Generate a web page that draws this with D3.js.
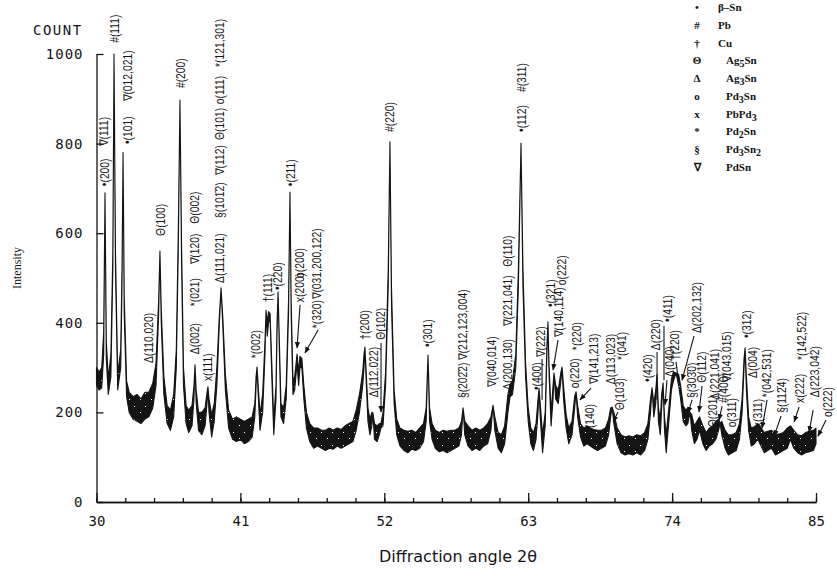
<!DOCTYPE html>
<html>
<head>
<meta charset="utf-8">
<script src="https://cdn.jsdelivr.net/npm/d3@7/dist/d3.min.js"></script>
<style>
  body { margin: 0; background: #fff; }
  svg { display: block; }
</style>
</head>
<body>
<div id="chart"></div>
<script>
// Recorded trace: 2-theta (deg) with the lower and upper edge of the noisy line (counts)
var angle = [30.00, 30.20, 30.40, 30.55, 30.65, 30.75, 30.90, 31.10, 31.25, 31.34, 31.45, 31.62, 31.85, 31.95, 32.03, 32.12,
  32.30, 32.50, 32.80, 33.10, 33.40, 33.70, 34.00, 34.30, 34.55, 34.75, 34.85, 34.95, 35.15, 35.40, 35.65, 35.90,
  36.10, 36.25, 36.38, 36.50, 36.65, 36.85, 37.05, 37.30, 37.45, 37.53, 37.62, 37.80, 38.05, 38.30, 38.45, 38.52,
  38.60, 38.80, 39.00, 39.20, 39.38, 39.52, 39.66, 39.85, 40.10, 40.40, 40.70, 41.00, 41.30, 41.60, 41.90, 42.10,
  42.20, 42.27, 42.36, 42.50, 42.70, 42.88, 42.96, 43.05, 43.15, 43.27, 43.40, 43.55, 43.72, 43.80, 43.88, 43.96,
  44.10, 44.30, 44.50, 44.68, 44.79, 44.88, 45.02, 45.15, 45.33, 45.45, 45.55, 45.70, 45.85, 46.05, 46.30, 46.60,
  46.90, 47.20, 47.50, 47.80, 48.10, 48.40, 48.70, 49.00, 49.30, 49.60, 49.85, 50.10, 50.35, 50.45, 50.52, 50.60,
  50.75, 50.90, 51.05, 51.13, 51.25, 51.45, 51.62, 51.74, 51.90, 52.10, 52.30, 52.43, 52.55, 52.75, 52.95, 53.20,
  53.50, 53.80, 54.10, 54.40, 54.70, 55.00, 55.20, 55.34, 55.46, 55.65, 55.90, 56.20, 56.50, 56.80, 57.10, 57.40,
  57.70, 57.90, 58.02, 58.15, 58.40, 58.70, 59.00, 59.30, 59.60, 59.90, 60.15, 60.31, 60.45, 60.70, 60.95, 61.20,
  61.45, 61.61, 61.80, 62.05, 62.25, 62.45, 62.60, 62.80, 63.00, 63.20, 63.40, 63.60, 63.75, 63.83, 63.92, 64.10,
  64.30, 64.43, 64.51, 64.60, 64.75, 64.90, 64.97, 65.10, 65.30, 65.50, 65.59, 65.70, 65.90, 66.10, 66.35, 66.55,
  66.66, 66.78, 67.00, 67.25, 67.50, 67.75, 68.00, 68.30, 68.60, 68.90, 69.15, 69.30, 69.41, 69.55, 69.80, 70.10,
  70.40, 70.70, 71.00, 71.30, 71.60, 71.90, 72.15, 72.35, 72.47, 72.60, 72.75, 72.85, 72.95, 73.10, 73.20, 73.31,
  73.42, 73.55, 73.75, 73.95, 74.10, 74.30, 74.50, 74.65, 74.85, 75.05, 75.20, 75.37, 75.50, 75.70, 75.90, 76.10,
  76.35, 76.60, 76.85, 77.10, 77.35, 77.55, 77.67, 77.80, 78.05, 78.30, 78.60, 78.90, 79.15, 79.35, 79.50, 79.58,
  79.68, 79.85, 80.05, 80.30, 80.55, 80.80, 81.05, 81.30, 81.60, 81.90, 82.20, 82.50, 82.80, 83.05, 83.30, 83.60,
  83.90, 84.20, 84.50, 84.80, 85.00];
var low = [260, 250, 255, 330, 690, 320, 240, 280, 520, 1000, 520, 250, 300, 480, 780, 420,
  235, 200, 185, 180, 175, 185, 190, 210, 260, 420, 560, 400, 240, 175, 160, 190,
  300, 560, 897, 540, 260, 175, 155, 170, 230, 306, 220, 160, 150, 170, 220, 257,
  200, 145, 180, 260, 390, 478, 390, 250, 165, 140, 135, 140, 130, 135, 145, 190,
  260, 301, 240, 160, 200, 330, 428, 370, 400, 410, 280, 150, 230, 380, 469, 360,
  190, 175, 230, 420, 692, 420, 240, 250, 310, 260, 300, 300, 230, 165, 135, 120,
  125, 120, 115, 120, 118, 125, 120, 125, 130, 135, 160, 200, 260, 300, 346, 280,
  180, 150, 170, 199, 140, 135, 150, 165, 170, 260, 480, 804, 440, 220, 150, 125,
  115, 110, 118, 115, 120, 135, 180, 328, 180, 140, 120, 112, 115, 110, 115, 120,
  125, 150, 210, 150, 125, 115, 120, 115, 125, 130, 160, 216, 160, 120, 110, 130,
  200, 235, 240, 300, 480, 801, 480, 280, 180, 130, 115, 140, 200, 254, 190, 110,
  170, 330, 402, 280, 170, 230, 288, 230, 220, 270, 301, 230, 165, 130, 150, 210,
  246, 190, 145, 125, 130, 125, 120, 115, 120, 125, 150, 190, 212, 175, 130, 110,
  105, 108, 105, 110, 105, 115, 140, 200, 255, 190, 220, 285, 180, 150, 210, 266,
  160, 110, 180, 250, 270, 288, 260, 230, 180, 170, 175, 200, 160, 130, 140, 160,
  130, 115, 125, 130, 140, 160, 176, 150, 120, 105, 110, 115, 140, 200, 300, 344,
  250, 160, 125, 130, 140, 125, 110, 115, 120, 105, 110, 115, 120, 140, 120, 110,
  105, 110, 112, 115, 130];
var high = [300, 290, 300, 380, 690, 360, 275, 330, 560, 1000, 560, 285, 340, 520, 780, 460,
  270, 245, 235, 240, 230, 245, 245, 265, 310, 450, 560, 430, 280, 215, 205, 240,
  340, 600, 897, 580, 300, 215, 205, 215, 260, 306, 250, 200, 200, 210, 245, 257,
  230, 195, 220, 300, 410, 478, 410, 285, 205, 185, 190, 185, 180, 185, 190, 220,
  280, 301, 260, 195, 240, 360, 428, 400, 425, 420, 310, 180, 260, 400, 469, 380,
  220, 210, 260, 450, 692, 450, 270, 280, 330, 290, 325, 320, 260, 200, 175, 165,
  165, 160, 160, 165, 160, 165, 162, 170, 175, 180, 205, 240, 290, 330, 346, 300,
  210, 185, 200, 199, 175, 170, 175, 175, 200, 290, 520, 804, 480, 250, 185, 165,
  160, 158, 160, 155, 165, 175, 210, 328, 210, 175, 160, 155, 160, 158, 160, 160,
  165, 180, 210, 180, 170, 160, 165, 160, 165, 175, 190, 216, 190, 155, 150, 170,
  240, 262, 270, 330, 520, 801, 520, 310, 210, 165, 155, 175, 230, 254, 220, 150,
  200, 350, 402, 300, 200, 260, 288, 260, 250, 290, 301, 260, 195, 165, 180, 235,
  246, 215, 175, 165, 170, 165, 162, 160, 160, 165, 185, 210, 212, 200, 165, 150,
  145, 148, 145, 150, 148, 155, 175, 230, 255, 220, 250, 285, 210, 185, 240, 266,
  190, 150, 210, 275, 290, 288, 285, 260, 215, 205, 210, 200, 195, 170, 180, 190,
  170, 155, 165, 170, 180, 185, 176, 180, 160, 150, 150, 155, 175, 230, 320, 344,
  280, 190, 165, 168, 175, 165, 155, 158, 160, 150, 152, 155, 165, 170, 160, 150,
  148, 155, 158, 160, 165];

// Peak labels: text, 2-theta of the column, count level where the text starts
var labelText = ["\u2022(200)", "\u2207(111)", "#(111)", "\u2022(101)", "\u2207(012,021)", "\u0398(100)", "\u0394(110,020)",
  "#(200)", "\u0394(002)", "*(021)", "\u2207(120)", "\u0398(002)", "x(111)", "\u0394(111,021)", "\u00a7(101\u03042)",
  "\u2207(112)", "\u0398(101)", "o(111)", "*(121,301)", "*(002)", "\u2020(111)", "\u2022(220)", "\u2022(211)",
  "x(200)", "o(200)", "*(320)", "\u2207(031,200,122)", "\u2020(200)", "\u0394(112,022)", "\u0398(102)", "#(220)",
  "\u2022(301)", "\u00a7(202\u03042)", "\u2207(212,123,004)", "\u2207(040,014)", "\u0394(200,130)", "\u2207(221,041)",
  "\u0398(110)", "\u2022(112)", "#(311)", "\u2022(400)", "\u2207(222)", "\u2022(321)", "\u2207(140,114)", "o(222)",
  "o(220)", "*(220)", "*(140)", "\u2207(141,213)", "\u0394(113,023)", "\u0398(103)", "*(041)", "\u2022(420)",
  "\u0394(220)", "\u2022(411)", "\u0394(040)", "\u2020(220)", "\u0394(202,132)", "\u00a7(303\u03040)", "\u0398(112)",
  "\u0398(201)", "\u0394(221,041)", "#(400)", "\u2207(043,015)", "o(311)", "\u2022(312)", "\u0394(004)", "x(311)",
  "*(042,531)", "\u00a7(112\u03044)", "x(222)", "*(142,522)", "\u0394(223,042)", "o(222)"];
var labelAngle = [30.65, 30.57, 31.41, 32.41, 32.41, 34.93, 34.01,
  36.46, 37.53, 37.53, 37.53, 37.53, 38.52, 39.44, 39.44,
  39.44, 39.44, 39.44, 39.44, 42.20, 43.11, 43.88, 44.87,
  45.56, 45.56, 46.86, 46.86, 50.53, 51.22, 51.75, 52.44,
  55.34, 58.02, 58.02, 60.24, 61.46, 61.46,
  61.46, 62.53, 62.53, 63.68, 63.98, 64.75, 65.36, 65.59,
  66.58, 66.74, 67.73, 68.04, 69.34, 70.02, 70.18, 72.16,
  72.78, 73.69, 73.84, 74.22, 75.91, 75.53, 76.29,
  77.13, 77.28, 77.97, 78.20, 78.58, 79.73, 80.19, 80.57,
  81.26, 82.41, 83.78, 83.94, 84.93, 85.92];
var labelBase = [705, 795, 1025, 799, 895, 594, 310,
  924, 330, 437, 531, 621, 270, 489, 634,
  730, 808, 888, 971, 321, 446, 473, 705,
  446, 500, 388, 453, 362, 234, 362, 826,
  346, 232, 317, 257, 250, 393,
  525, 826, 915, 250, 324, 435, 368, 484,
  254, 339, 156, 263, 263, 205, 317, 268,
  339, 402, 279, 317, 377, 232, 266,
  167, 228, 221, 268, 167, 366, 277, 167,
  234, 199, 221, 317, 234, 190];

// Leader lines from a label to its peak: [2-theta, counts] at each end, and whether it ends in an arrow
var leaderFrom = [[45.56, 440], [46.94, 384], [51.75, 355], [64.06, 319], [65.28, 362], [67.80, 254], [69.87, 201],
  [72.85, 335], [73.38, 393], [73.61, 272], [74.30, 313], [75.68, 371], [75.53, 228], [76.29, 259], [77.82, 214],
  [80.65, 161], [81.26, 228], [82.33, 192], [83.71, 212], [84.78, 205], [85.77, 183]];
var leaderTo = [[45.33, 344], [45.94, 333], [51.75, 201], [64.06, 228], [64.90, 295], [66.96, 228], [69.49, 179],
  [72.85, 228], [73.38, 272], [73.46, 217], [74.45, 277], [74.76, 272], [75.22, 199], [76.06, 201], [77.59, 183],
  [80.80, 134], [80.88, 165], [81.80, 147], [83.33, 179], [84.47, 156], [85.15, 147]];
var leaderArrow = [true, true, true, false, true, true, true,
  false, false, true, false, true, true, true, true,
  true, true, true, true, true, true];

var legendSymbols = ["\u2022", "#", "\u2020", "\u0398", "\u0394", "o", "x", "*", "\u00a7", "\u2207"];
var legendPhases = ["\u03b2\u2013Sn", "Pb", "Cu", "Ag5Sn", "Ag3Sn", "Pd3Sn", "PbPd3", "Pd2Sn", "Pd3Sn2", "PdSn"];

var yTicks = [0, 200, 400, 600, 800, 1000];
var xMajorTicks = [30, 41, 52, 63, 74, 85];
var xMinorTicks = d3.range(30, 85.01, 2.2);

var width = 837,
    height = 576;

var svg = d3.select("#chart").append("svg")
    .attr("width", width)
    .attr("height", height)
    .style("font-family", "'DejaVu Sans Mono', monospace");

var xScale = d3.scaleLinear()
    .domain([30, 85])
    .range([96.5, 816]);

var yScale = d3.scaleLinear()
    .domain([0, 1000])
    .range([502, 54]);

var ink = "#141414";

var defs = svg.append("defs");

defs.append("marker")
    .attr("id", "arrow")
    .attr("viewBox", "0 0 10 10")
    .attr("refX", 9)
    .attr("refY", 5)
    .attr("markerWidth", 6)
    .attr("markerHeight", 6)
    .attr("orient", "auto")
  .append("path")
    .attr("d", "M0,1L10,5L0,9Z")
    .style("fill", ink);

// black with sparse white specks, so the wide part of the trace reads as a noisy pen line
var speck = defs.append("pattern")
    .attr("id", "noise")
    .attr("patternUnits", "userSpaceOnUse")
    .attr("width", 11)
    .attr("height", 13);

speck.append("rect")
    .attr("width", 11)
    .attr("height", 13)
    .style("fill", ink);

speck.selectAll(".hole")
    .data([[2, 3, 1, 1], [8, 9, 1, 1]])
  .enter().append("rect")
    .attr("class", "hole")
    .attr("x", function(d) { return d[0]; })
    .attr("y", function(d) { return d[1]; })
    .attr("width", function(d) { return d[2]; })
    .attr("height", function(d) { return d[3]; })
    .style("fill", "#fff");

// Axes
var yAxis = d3.axisLeft(yScale)
    .tickValues(yTicks)
    .tickSizeInner(-7)
    .tickSizeOuter(0)
    .tickPadding(13)
    .tickFormat(d3.format("d"));

var gy = svg.append("g")
    .attr("transform", "translate(" + xScale(30) + ",0)")
    .call(yAxis);

gy.selectAll("text")
    .style("font-family", "'DejaVu Sans Mono', monospace")
    .style("font-size", "14px")
    .style("letter-spacing", "1px")
    .style("fill", ink);

svg.append("g")
    .attr("transform", "translate(0," + yScale(0) + ")")
    .call(d3.axisBottom(xScale)
      .tickValues(xMinorTicks)
      .tickSizeInner(-4)
      .tickSizeOuter(0)
      .tickFormat(""));

var gx = svg.append("g")
    .attr("transform", "translate(0," + yScale(0) + ")")
    .call(d3.axisBottom(xScale)
      .tickValues(xMajorTicks)
      .tickSizeInner(-9)
      .tickSizeOuter(0)
      .tickPadding(14)
      .tickFormat(d3.format("d")));

gx.selectAll("text")
    .style("font-family", "'DejaVu Sans Mono', monospace")
    .style("font-size", "14px")
    .style("fill", ink);

svg.selectAll(".domain, .tick line")
    .style("stroke", ink)
    .style("stroke-width", 1.3);

svg.append("text")
    .attr("x", 33)
    .attr("y", 35)
    .style("font-size", "14px")
    .style("letter-spacing", "1.5px")
    .style("fill", ink)
    .text("COUNT");

svg.append("text")
    .attr("transform", "translate(21,268) rotate(-90)")
    .attr("text-anchor", "middle")
    .style("font-family", "'Liberation Serif', serif")
    .style("font-size", "12px")
    .style("fill", ink)
    .text("Intensity");

svg.append("text")
    .attr("x", 458)
    .attr("y", 562)
    .attr("text-anchor", "middle")
    .style("font-family", "'DejaVu Sans', sans-serif")
    .style("font-size", "16px")
    .style("fill", ink)
    .text("Diffraction angle 2\u03b8");

// Trace
var trace = d3.range(angle.length);

var band = d3.area()
    .x(function(i) { return xScale(angle[i]); })
    .y0(function(i) { return yScale(low[i]); })
    .y1(function(i) { return yScale(high[i]); });

svg.append("path")
    .datum(trace)
    .attr("class", "trace")
    .attr("d", band)
    .style("fill", "url(#noise)")
    .style("stroke", ink)
    .style("stroke-width", 1.1)
    .style("stroke-linejoin", "round");

// Peak labels (squeezed along the text, like the narrow plotter lettering)
svg.append("g")
    .attr("class", "labels")
  .selectAll("text")
    .data(labelText)
  .enter().append("text")
    .attr("transform", function(d, i) {
      return "translate(" + xScale(labelAngle[i]) + "," + yScale(labelBase[i]) + ") rotate(-90) scale(0.86,1)";
    })
    .attr("dy", "0.35em")
    .style("font-family", "'Liberation Sans', Arial, sans-serif")
    .style("font-size", "12px")
    .style("fill", ink)
    .text(function(d) { return d; });

svg.append("g")
    .attr("class", "leaders")
  .selectAll("line")
    .data(leaderFrom)
  .enter().append("line")
    .attr("x1", function(d) { return xScale(d[0]); })
    .attr("y1", function(d) { return yScale(d[1]); })
    .attr("x2", function(d, i) { return xScale(leaderTo[i][0]); })
    .attr("y2", function(d, i) { return yScale(leaderTo[i][1]); })
    .attr("marker-end", function(d, i) { return leaderArrow[i] ? "url(#arrow)" : null; })
    .style("stroke", ink)
    .style("stroke-width", 1.1);

// Legend
var legend = svg.append("g")
    .attr("class", "legend")
    .style("font-family", "'Liberation Serif', 'Times New Roman', serif")
    .style("font-size", "11px")
    .style("fill", ink);

var legendRow = d3.scaleLinear()
    .domain([0, legendPhases.length - 1])
    .range([11, 171]);

legend.selectAll(".sym")
    .data(legendSymbols)
  .enter().append("text")
    .attr("class", "sym")
    .attr("x", 697)
    .attr("y", function(d, i) { return legendRow(i); })
    .attr("text-anchor", "middle")
    .style("font-weight", "bold")
    .text(function(d) { return d; });

legend.selectAll(".phase")
    .data(legendPhases)
  .enter().append("text")
    .attr("class", "phase")
    .attr("x", function(d, i) { return i < 3 ? 718 : 726; })
    .attr("y", function(d, i) { return legendRow(i); })
    .style("font-weight", "bold")
    .each(function(d) {
      var t = d3.select(this);
      d.split(/(\d)/).forEach(function(part) {
        if (part === "") return;
        var isSub = /\d/.test(part);
        t.append("tspan")
            .attr("baseline-shift", isSub ? "-30%" : null)
            .style("font-size", isSub ? "10px" : null)
            .text(part);
      });
    });
</script>
</body>
</html>
